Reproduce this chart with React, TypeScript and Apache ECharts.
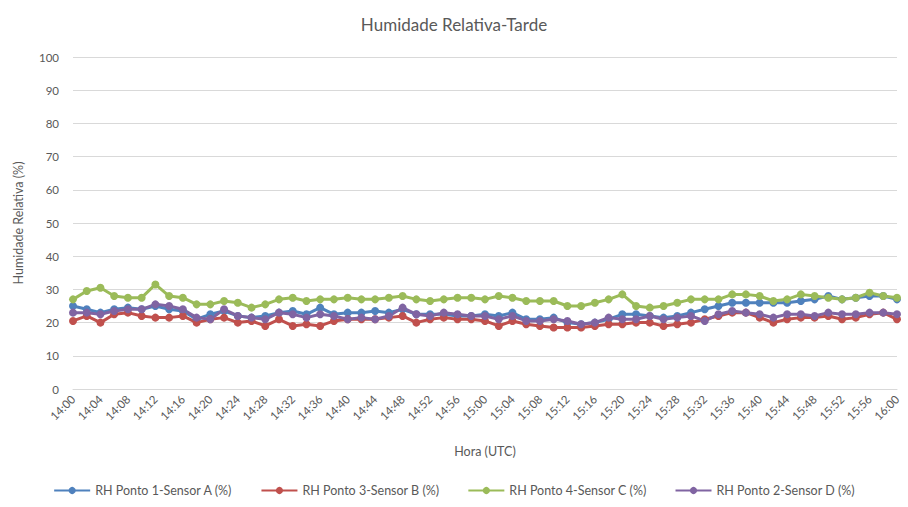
import React, { useEffect, useRef } from "react";
import * as echarts from "echarts";

const categories: string[] = [];
for (let m = 0; m <= 120; m += 2) {
  const h = 14 + Math.floor(m / 60);
  const mm = m % 60;
  categories.push(`${h}:${mm < 10 ? "0" + mm : mm}`);
}

const sensorA = [25, 24, 23, 24, 24.5, 24, 25, 24, 23.5, 21, 22.5, 23.5, 22, 21.5, 22, 23, 23.5, 22.5, 24.5, 22.5, 23, 23, 23.5, 23, 24, 22.5, 22.5, 22.5, 22, 22, 22.5, 22, 23, 21, 21, 21.5, 20, 19.5, 20, 21, 22.5, 22.5, 22, 21.5, 22, 23, 24, 25, 26, 26, 26, 26, 26, 26.5, 27, 28, 27, 27.5, 28, 28, 27];
const sensorB = [20.5, 22, 20, 22.5, 23, 22, 21.5, 21.5, 22, 20, 21, 21.5, 20, 20.5, 19, 21, 19, 19.5, 19, 20.5, 21, 21, 21, 21.5, 22, 20, 21, 21.5, 21, 21, 20.5, 19, 20.5, 19.5, 19, 18.5, 18.5, 18.5, 19, 19.5, 19.5, 20, 20, 19, 19.5, 20, 21, 22, 23, 23, 21.5, 20, 21, 21.5, 21.5, 22, 21, 21.5, 22.5, 23, 21];
const sensorC = [27, 29.5, 30.5, 28, 27.5, 27.5, 31.5, 28, 27.5, 25.5, 25.5, 26.5, 26, 24.5, 25.5, 27, 27.5, 26.5, 27, 27, 27.5, 27, 27, 27.5, 28, 27, 26.5, 27, 27.5, 27.5, 27, 28, 27.5, 26.5, 26.5, 26.5, 25, 25, 26, 27, 28.5, 25, 24.5, 25, 26, 27, 27, 27, 28.5, 28.5, 28, 26.5, 27, 28.5, 28, 27.5, 27, 27.5, 29, 28, 27.5];
const sensorD = [23, 23, 22.5, 23.5, 24, 24, 25.5, 25, 24, 21.5, 21, 24, 22, 21.5, 21, 23, 22.5, 21.5, 22.5, 22, 21, 21.5, 21, 22, 24.5, 22.5, 22, 23, 22.5, 22, 22, 21, 22, 20.5, 20.5, 21, 20.5, 19.5, 20, 21.5, 21, 21, 22, 21, 21.5, 22, 20.5, 22.5, 23.5, 23, 22.5, 21.5, 22.5, 22.5, 22, 23, 22.5, 22.5, 23, 23, 22.5];

const seriesNames = [
  "RH Ponto 1-Sensor A (%)",
  "RH Ponto 3-Sensor B (%)",
  "RH Ponto 4-Sensor C (%)",
  "RH Ponto 2-Sensor D (%)",
];
const seriesData = [sensorA, sensorB, sensorC, sensorD];
const colors = ["#4F81BD", "#C0504D", "#9BBB59", "#8064A2"];

export default function App() {
  const ref = useRef<HTMLDivElement>(null);
  useEffect(() => {
    if (!ref.current) return;
    const chart = echarts.init(ref.current, undefined, { renderer: "svg" });
    const font = "Lato, 'Open Sans', sans-serif";
    chart.setOption({
      animation: false,
      color: colors,
      textStyle: { fontFamily: font },
      title: {
        text: "Humidade Relativa-Tarde",
        left: "center",
        top: 11,
        textStyle: { fontSize: 17, fontWeight: "normal", color: "#595959", fontFamily: font },
      },
      grid: { left: 73, right: 11, top: 57, bottom: 118, containLabel: false },
      legend: {
        bottom: 5,
        left: "center",
        itemWidth: 36,
        itemHeight: 9,
        itemGap: 28,
        textStyle: { fontSize: 12.5, color: "#595959", fontFamily: font },
        data: seriesNames,
      },
      xAxis: {
        type: "category",
        data: categories,
        boundaryGap: false,
        name: "Hora (UTC)",
        nameLocation: "middle",
        nameGap: 56,
        nameTextStyle: { fontSize: 12.5, color: "#595959", fontFamily: font },
        axisLine: { lineStyle: { color: "#D9D9D9" } },
        axisTick: { show: false },
        axisLabel: { interval: 1, rotate: 45, fontSize: 11.5, color: "#595959", fontFamily: font, margin: 8 },
      },
      yAxis: {
        type: "value",
        min: 0,
        max: 100,
        interval: 10,
        name: "Humidade Relativa (%)",
        nameLocation: "middle",
        nameGap: 48,
        nameTextStyle: { fontSize: 12.5, color: "#595959", fontFamily: font },
        axisLine: { show: false },
        axisTick: { show: false },
        axisLabel: { fontSize: 11.5, color: "#595959", fontFamily: font, margin: 14 },
        splitLine: { lineStyle: { color: "#D9D9D9" } },
      },
      series: seriesNames.map((n, i) => ({
        name: n,
        type: "line",
        data: seriesData[i],
        symbol: "circle",
        symbolSize: 8,
        lineStyle: { width: 3, color: colors[i] },
        itemStyle: { color: colors[i] },
      })),
    });
    return () => chart.dispose();
  }, []);
  return (
    <div
      ref={ref}
      style={{ position: "fixed", left: 0, top: 0, width: 908, height: 507, background: "#fff" }}
    />
  );
}
